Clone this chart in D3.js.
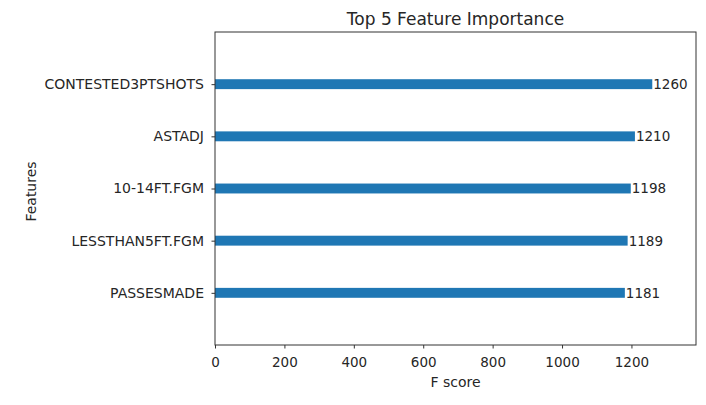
<!DOCTYPE html>
<html>
<head>
<meta charset="utf-8">
<script src="https://cdn.jsdelivr.net/npm/d3@7"></script>
<style>
  body { margin: 0; background: #fff; }
  text { font-family: "DejaVu Sans", sans-serif; fill: #262626; }
</style>
</head>
<body>
<div id="wrapper"></div>
<script>
// features listed bottom to top, same as the plot
const features = ["PASSESMADE", "LESSTHAN5FT.FGM", "10-14FT.FGM", "ASTADJ", "CONTESTED3PTSHOTS"];
const scores = [1181, 1189, 1198, 1210, 1260];
const xTicks = [0, 200, 400, 600, 800, 1000, 1200];

const dataset = features.map((f, i) => ({ feature: f, score: scores[i], pos: i }));

let dimensions = {
  width: 706,
  height: 405,
  margin: { top: 32, right: 10, bottom: 60, left: 215 },
};
dimensions.boundedWidth = dimensions.width - dimensions.margin.left - dimensions.margin.right;
dimensions.boundedHeight = dimensions.height - dimensions.margin.top - dimensions.margin.bottom;

const wrapper = d3.select("#wrapper")
  .append("svg")
  .attr("width", dimensions.width)
  .attr("height", dimensions.height);

const bounds = wrapper.append("g")
  .attr("transform", `translate(${dimensions.margin.left},${dimensions.margin.top})`);

// xgboost style limits: x up to max * 1.1, y from -1 to n
const xScale = d3.scaleLinear()
  .domain([0, d3.max(scores) * 1.1])
  .range([0, dimensions.boundedWidth]);

const yScale = d3.scaleLinear()
  .domain([-1, features.length])
  .range([dimensions.boundedHeight, 0]);

const barHeight = yScale(0) - yScale(0.19);

bounds.selectAll("rect.bar")
  .data(dataset)
  .join("rect")
  .attr("class", "bar")
  .attr("x", 0)
  .attr("y", d => yScale(d.pos) - barHeight / 2)
  .attr("width", d => xScale(d.score))
  .attr("height", barHeight)
  .attr("fill", "#1f77b4");

bounds.selectAll("text.val")
  .data(dataset)
  .join("text")
  .attr("class", "val")
  .attr("x", d => xScale(d.score) + 1)
  .attr("y", d => yScale(d.pos))
  .attr("dy", "0.36em")
  .style("font-size", "13.5px")
  .text(d => d.score);

// axes
const xAxis = bounds.append("g")
  .attr("transform", `translate(0,${dimensions.boundedHeight})`)
  .call(d3.axisBottom(xScale).tickValues(xTicks).tickFormat(d3.format("d"))
    .tickSize(3.5).tickPadding(8.5).tickSizeOuter(0));

const yAxis = bounds.append("g")
  .call(d3.axisLeft(yScale)
    .tickValues(dataset.map(d => d.pos))
    .tickFormat(i => features[i])
    .tickSize(3.5).tickPadding(7.5).tickSizeOuter(0));

[xAxis, yAxis].forEach(ax => {
  ax.select(".domain").remove();
  ax.selectAll("line").attr("stroke", "#333");
  ax.selectAll("text").style("font-family", "DejaVu Sans, sans-serif").attr("fill", "#262626");
});
xAxis.selectAll("text").style("font-size", "13.5px");
yAxis.selectAll("text").style("font-size", "14px");

// frame (spines)
bounds.append("rect")
  .attr("x", 0).attr("y", 0)
  .attr("width", dimensions.boundedWidth)
  .attr("height", dimensions.boundedHeight)
  .attr("fill", "none")
  .attr("stroke", "#333")
  .attr("stroke-width", 1);

// title and labels
wrapper.append("text")
  .attr("x", dimensions.margin.left + dimensions.boundedWidth / 2)
  .attr("y", 25)
  .attr("text-anchor", "middle")
  .style("font-size", "17px")
  .text("Top 5 Feature Importance");

wrapper.append("text")
  .attr("x", dimensions.margin.left + dimensions.boundedWidth / 2)
  .attr("y", 387)
  .attr("text-anchor", "middle")
  .style("font-size", "14px")
  .text("F score");

wrapper.append("text")
  .attr("transform", `translate(35.5,${dimensions.margin.top + dimensions.boundedHeight / 2 + 3}) rotate(-90)`)
  .attr("text-anchor", "middle")
  .style("font-size", "14px")
  .text("Features");
</script>
</body>
</html>
